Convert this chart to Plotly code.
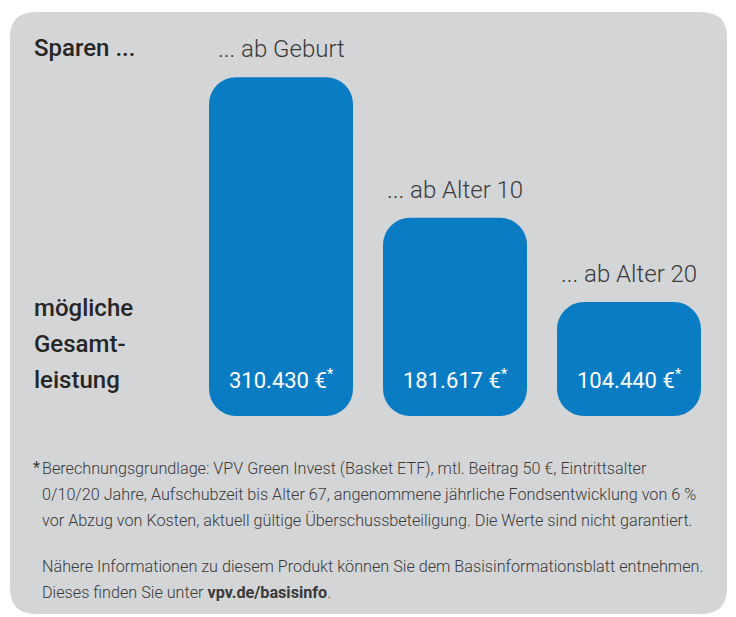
import plotly.graph_objects as go

# ---- data ----
categories = ["... ab Geburt", "... ab Alter 10", "... ab Alter 20"]
values = [310430, 181617, 104440]
value_labels = ["310.430 €", "181.617 €", "104.440 €"]
title_left = "Sparen ..."
side_lines = ["mögliche", "Gesamt-", "leistung"]
footnote_lines = [
    "Berechnungsgrundlage: VPV Green Invest (Basket ETF), mtl. Beitrag 50 €, Eintrittsalter",
    "0/10/20 Jahre, Aufschubzeit bis Alter 67, angenommene jährliche Fondsentwicklung von 6 %",
    "vor Abzug von Kosten, aktuell gültige Überschussbeteiligung. Die Werte sind nicht garantiert.",
    "Nähere Informationen zu diesem Produkt können Sie dem Basisinformationsblatt entnehmen.",
    "Dieses finden Sie unter <b>vpv.de/basisinfo</b>.",
]

# ---- layout constants (page pixels; the page body adds an 8px offset) ----
OFF = 8
W, H = 736 - OFF, 617 - OFF
ML, MR, MT, MB = 194 - OFF, 20, 40 - OFF, 201
PW, PH = W - ML - MR, H - MT - MB
YMAX = 344500
RADIUS = 27
BLUE = "#0a7cc3"
PANEL = "#d4d5d7"
DARK = "#262626"
MID = "#3a3a3a"
FONT = "Roboto, Noto Sans, sans-serif"
FOOT_Y = [468, 494, 520, 566, 592]


def px_x(px):
    return (px - OFF - ML) / PW


def px_y(py):
    return (MT + PH - (py - OFF)) / PH


def rounded_path(x0, y0, x1, y1, r):
    pts = [
        ("M", [(x0 + r, y0)]),
        ("L", [(x1 - r, y0)]),
        ("Q", [(x1, y0), (x1, y0 + r)]),
        ("L", [(x1, y1 - r)]),
        ("Q", [(x1, y1), (x1 - r, y1)]),
        ("L", [(x0 + r, y1)]),
        ("Q", [(x0, y1), (x0, y1 - r)]),
        ("L", [(x0, y0 + r)]),
        ("Q", [(x0, y0), (x0 + r, y0)]),
    ]
    s = ""
    for cmd, ps in pts:
        s += cmd + " " + " ".join(f"{px_x(a):.5f},{px_y(b):.5f}" for a, b in ps) + " "
    return s + "Z"


# corner radius expressed in data units, used to split each bar into two
# overlapping pieces: one rounded at the top, one rounded at the bottom
r_data = RADIUS * YMAX / PH

fig = go.Figure()
fig.add_trace(go.Bar(
    x=categories, y=[v - r_data for v in values], base=[r_data] * len(values),
    marker=dict(color=BLUE, cornerradius=RADIUS, line=dict(width=0)),
    hoverinfo="skip", showlegend=False,
))
fig.add_trace(go.Bar(
    x=categories, y=[-(v - r_data) for v in values], base=[v - r_data for v in values],
    marker=dict(color=BLUE, cornerradius=RADIUS, line=dict(width=0)),
    hoverinfo="skip", showlegend=False,
))

ann = []
for c, v, lab in zip(categories, values, value_labels):
    ann.append(dict(x=c, y=v, xref="x", yref="y", text=c, showarrow=False,
                    yanchor="middle", yshift=28,
                    font=dict(family=FONT, size=24, color=MID, weight=300)))
    ann.append(dict(x=c, y=0, xref="x", yref="y", text=lab + "<sup>*</sup>", showarrow=False,
                    yanchor="middle", yshift=37,
                    font=dict(family=FONT, size=22, color="white")))

ann.append(dict(x=px_x(32), y=px_y(48), xref="paper", yref="paper", text=title_left,
                showarrow=False, xanchor="left", yanchor="middle",
                font=dict(family=FONT, size=24, color=DARK, weight=500)))
for i, t in enumerate(side_lines):
    ann.append(dict(x=px_x(32), y=px_y(308 + 36 * i), xref="paper", yref="paper", text=t,
                    showarrow=False, xanchor="left", yanchor="middle",
                    font=dict(family=FONT, size=24, color=DARK, weight=500)))

ann.append(dict(x=px_x(31), y=px_y(467), xref="paper", yref="paper", text="*",
                showarrow=False, xanchor="left", yanchor="middle",
                font=dict(family=FONT, size=16, color=MID)))
for t, yy in zip(footnote_lines, FOOT_Y):
    ann.append(dict(x=px_x(40), y=px_y(yy), xref="paper", yref="paper", text=t,
                    showarrow=False, xanchor="left", yanchor="middle",
                    font=dict(family=FONT, size=16.2, color=MID, weight=300)))

fig.update_layout(
    width=W, height=H,
    margin=dict(l=ML, r=MR, t=MT, b=MB, pad=0),
    paper_bgcolor="white", plot_bgcolor="rgba(0,0,0,0)",
    barmode="overlay", bargap=1 - 144 / 174,
    xaxis=dict(visible=False, type="category", range=[-0.5, 2.5]),
    yaxis=dict(visible=False, range=[0, YMAX]),
    shapes=[dict(type="path", xref="paper", yref="paper", layer="below",
                 path=rounded_path(10, 12, 727, 614, 26),
                 fillcolor=PANEL, line=dict(width=0))],
    annotations=ann,
    showlegend=False,
)

fig.write_html("out.html")
